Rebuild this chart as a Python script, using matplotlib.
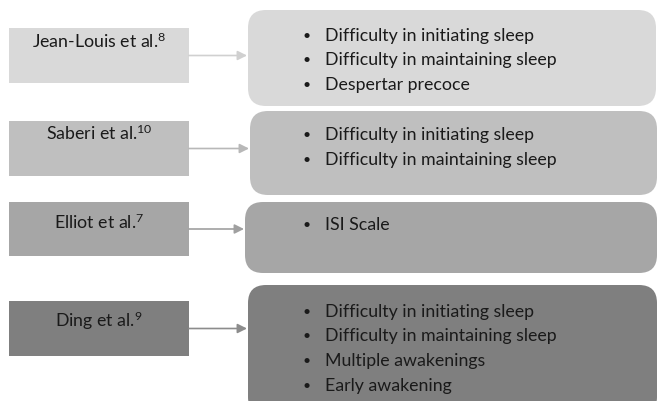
import matplotlib
matplotlib.use("Agg")
import matplotlib.pyplot as plt
from matplotlib.patches import FancyBboxPatch, Rectangle

plt.rcParams['font.family'] = ['Lato', 'DejaVu Sans']
plt.rcParams['mathtext.fontset'] = 'custom'
plt.rcParams['mathtext.rm'] = 'Lato'
plt.rcParams['mathtext.it'] = 'Lato'

# data
studies = ['Jean-Louis et al.', 'Saberi et al.', 'Elliot et al.', 'Ding et al.']
refs = ['8', '10', '7', '9']
symptoms = [
    ['Difficulty in initiating sleep', 'Difficulty in maintaining sleep', 'Despertar precoce'],
    ['Difficulty in initiating sleep', 'Difficulty in maintaining sleep'],
    ['ISI Scale'],
    ['Difficulty in initiating sleep', 'Difficulty in maintaining sleep',
     'Multiple awakenings', 'Early awakening'],
]

# layout (pixels, y downwards)
fills = ['#d9d9d9', '#bfbfbf', '#a6a6a6', '#7f7f7f']
arrow_cols = ['#d0d0d0', '#b8b8b8', '#a0a0a0', '#8c8c8c']
left_y = [(28, 83), (121, 176), (202, 256), (301, 356)]
left_text_y = [41, 133, 222, 321]
right_box = [(248, 10, 656, 106), (250, 111, 657, 195),
             (245, 202, 657, 273), (248, 285, 657, 415)]
first_line = [36, 135, 225, 312]
line_gap = 24.5
txt_col = '#1a1a1a'
fs = 12.8

fig = plt.figure(figsize=(6.59, 4.01), dpi=100)
ax = fig.add_axes([0, 0, 1, 1])
ax.set_xlim(0, 659)
ax.set_ylim(401, 0)
ax.axis('off')

for i, name in enumerate(studies):
    y0, y1 = left_y[i]
    ax.add_patch(Rectangle((9, y0), 180, y1 - y0, facecolor=fills[i], edgecolor='none'))
    ax.text(99, left_text_y[i], name + '$^{' + refs[i] + '}$', ha='center', va='center',
            fontsize=fs, color=txt_col)

    bx0, by0, bx1, by1 = right_box[i]
    ax.add_patch(FancyBboxPatch((bx0, by0), bx1 - bx0, by1 - by0,
                                boxstyle='round,pad=0,rounding_size=18',
                                facecolor=fills[i], edgecolor='none'))

    ya = (y0 + y1) / 2
    ax.annotate('', xy=(bx0 - 1, ya), xytext=(189, ya),
                arrowprops=dict(arrowstyle='-|>', color=arrow_cols[i], lw=1.2,
                                mutation_scale=14, shrinkA=0, shrinkB=0))

    for k, s in enumerate(symptoms[i]):
        yy = first_line[i] + k * line_gap
        ax.text(307, yy, '\u2022', ha='center', va='center', fontsize=10, color=txt_col)
        ax.text(325, yy, s, ha='left', va='center', fontsize=fs, color=txt_col)

fig.savefig('out.png', dpi=100)
